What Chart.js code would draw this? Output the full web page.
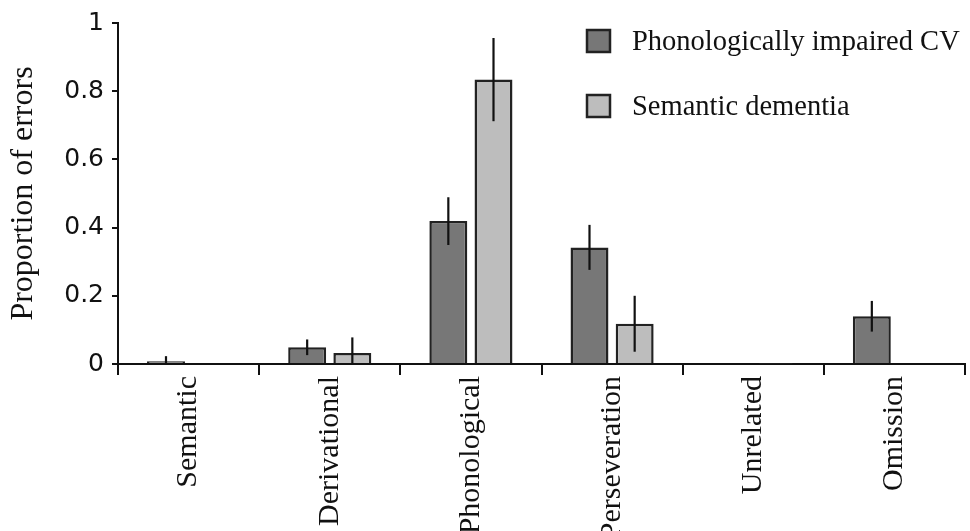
<!DOCTYPE html>
<html lang="en">
<head>
  <meta charset="UTF-8">
  <title>Proportion of errors</title>
  <script src="https://cdn.jsdelivr.net/npm/chart.js"></script>
  <style>
    body { margin: 0; background: #fff; }
    canvas { display: block; }
  </style>
</head>
<body>
  <canvas id="grafico" width="970" height="531"></canvas>

  <script>
    const categorias = ['Semantic', 'Derivational', 'Phonological', 'Perseveration', 'Unrelated', 'Omission'];
    const series = ['Phonologically impaired CV', 'Semantic dementia'];
    const valoresCV = [0.008, 0.049, 0.419, 0.342, 0.003, 0.14];
    const erroresCV = [0.015, 0.023, 0.07, 0.066, 0, 0.045];
    const valoresSD = [0, 0.032, 0.834, 0.118, 0.002, 0];
    const erroresSD = [0, 0.046, 0.122, 0.082, 0, 0];
    const ticksY = [0, 0.2, 0.4, 0.6, 0.8, 1];

    const colores = ['#777777', '#bdbdbd'];

    // barras de error (sin remates)
    const barrasError = {
      id: 'barrasError',
      afterDatasetsDraw(chart) {
        const ctx = chart.ctx;
        const y = chart.scales.y;
        const errores = [erroresCV, erroresSD];
        ctx.save();
        ctx.strokeStyle = '#111';
        ctx.lineWidth = 2.2;
        chart.data.datasets.forEach((ds, d) => {
          chart.getDatasetMeta(d).data.forEach((bar, i) => {
            const e = errores[d][i];
            if (!e) return;
            const v = ds.data[i];
            ctx.beginPath();
            ctx.moveTo(bar.x, y.getPixelForValue(v + e));
            ctx.lineTo(bar.x, y.getPixelForValue(Math.max(v - e, 0)));
            ctx.stroke();
          });
        });
        ctx.restore();
      }
    };

    // leyenda dentro del área del gráfico, arriba a la derecha
    const leyenda = {
      id: 'leyenda',
      afterDraw(chart) {
        const ctx = chart.ctx;
        ctx.save();
        ctx.font = '28.5px "Liberation Serif", serif';
        ctx.textBaseline = 'middle';
        chart.data.datasets.forEach((ds, d) => {
          const cy = 41 + d * 65;
          ctx.fillStyle = ds.backgroundColor;
          ctx.fillRect(587, cy - 11, 23, 22);
          ctx.strokeStyle = '#222';
          ctx.lineWidth = 2.5;
          ctx.strokeRect(587, cy - 11, 23, 22);
          ctx.fillStyle = '#111';
          ctx.fillText(ds.label, 632, cy + 2);
        });
        ctx.restore();
      }
    };

    const ctx = document.getElementById('grafico').getContext('2d');
    new Chart(ctx, {
      type: 'bar',
      data: {
        labels: categorias,
        datasets: [{
          label: series[0],
          data: valoresCV,
          backgroundColor: colores[0],
          borderColor: '#222',
          borderWidth: 2.5,
          categoryPercentage: 0.64,
          barPercentage: 0.84
        }, {
          label: series[1],
          data: valoresSD,
          backgroundColor: colores[1],
          borderColor: '#222',
          borderWidth: 2.5,
          categoryPercentage: 0.64,
          barPercentage: 0.84
        }]
      },
      options: {
        responsive: false,
        animation: false,
        layout: { padding: { left: 0, right: 5, top: 20, bottom: 0 } },
        scales: {
          x: {
            afterFit(scale) { scale.height = 167; },
            grid: { display: true, drawOnChartArea: false, offset: true, color: '#111', lineWidth: 2, tickLength: 11 },
            border: { display: true, color: '#111', width: 2 },
            ticks: {
              color: '#111',
              minRotation: 90, maxRotation: 90, autoSkip: false, padding: 1,
              font: { family: '"Liberation Serif", serif', size: 30 }
            }
          },
          y: {
            min: 0, max: 1,
            afterFit(scale) { scale.width = 118; },
            afterBuildTicks(scale) { scale.ticks = ticksY.map(v => ({ value: v })); },
            grid: { display: true, drawOnChartArea: false, color: '#111', lineWidth: 2, tickLength: 6 },
            border: { display: true, color: '#111', width: 2 },
            ticks: {
              color: '#111', padding: 8,
              font: { family: '"DejaVu Sans", sans-serif', size: 25 },
              callback: v => String(Math.round(v * 10) / 10)
            },
            title: {
              display: true, text: 'Proportion of errors', color: '#111',
              padding: { top: 4, bottom: 0 },
              font: { family: '"Liberation Serif", serif', size: 32 }
            }
          }
        },
        plugins: {
          legend: { display: false },
          tooltip: { enabled: false }
        }
      },
      plugins: [barrasError, leyenda]
    });
  </script>
</body>
</html>
